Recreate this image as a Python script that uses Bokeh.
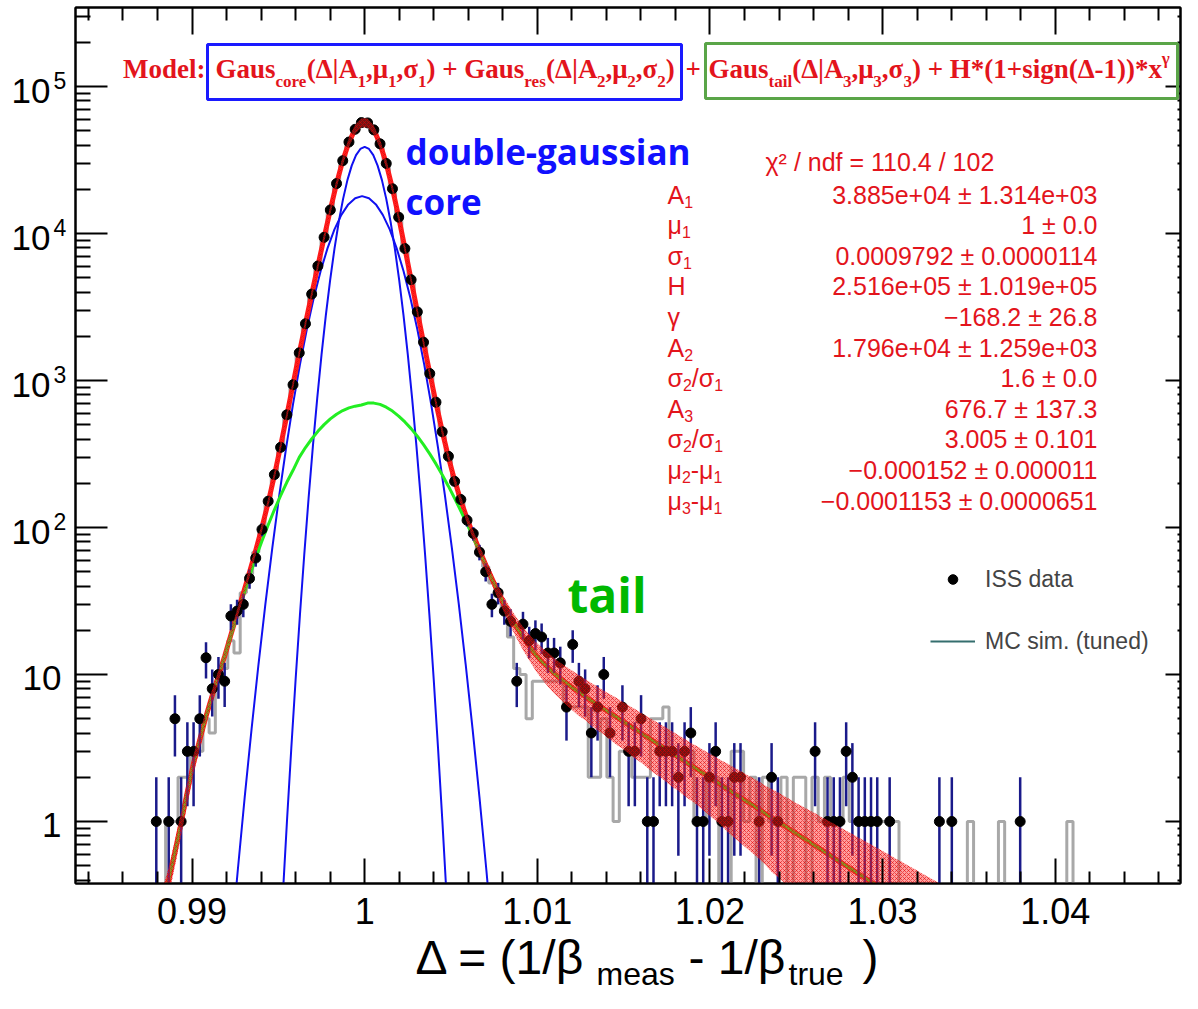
import math
from bokeh.plotting import figure
from bokeh.layouts import row, column
from bokeh.models import (Range1d, FixedTicker, LinearAxis, LogAxis, Label,
                          BoxAnnotation, Legend, LegendItem)
from bokeh.embed import file_html
from bokeh.resources import INLINE

# ---------------------------------------------------------------- data ----
BIN_WIDTH = 0.00036
FIRST_BIN_CENTER = 0.98325

# ISS data, counts per bin (bins of width BIN_WIDTH starting at FIRST_BIN_CENTER)
iss_counts = [0] * 13 + [
    1, 0, 1, 5, 1, 3, 3, 5, 13, 8,
    10, 9, 25, 27, 30, 45, 62, 97, 151, 229,
    351, 584, 936, 1542, 2431, 3870, 6012, 9420, 14460, 21850,
    31260, 41900, 51180, 56800, 56540, 50700, 40730, 29950, 20150, 12920,
    7900, 4850, 2930, 1822, 1115, 712, 448, 305, 206, 155,
    112, 91, 68, 50, 30, 36, 27, 23, 9, 22,
    17, 19, 18, 14, 14, 12, 6, 16, 9, 8,
    4, 6, 10, 4, 0, 6, 3, 3, 5, 1,
    1, 3, 3, 3, 2, 3, 4, 1, 1, 2,
    3, 1, 1, 2, 2, 0, 0, 1, 0, 2,
    1, 0, 0, 0, 0, 0, 3, 0, 1, 1,
    1, 3, 2, 1, 1, 1, 1, 0, 1, 0,
    0, 0, 0, 0, 0, 0, 1, 0, 1, 0,
    0, 0, 0, 0, 0, 0, 0, 0, 0, 1,
] + [0] * 27

# MC simulation (tuned), same binning
mc_counts = [0] * 15 + [
    1, 1, 2, 2, 3, 3, 5, 4, 9, 11,
    17, 14, 36, 48, 68, 98, 150, 223, 362, 575,
    950, 1520, 2460, 3840, 6050, 9370, 14520, 21790, 31320, 41800,
    51300, 56700, 56650, 50580, 40800, 29850, 20250, 12850, 7950, 4810,
    2960, 1800, 1130, 700, 455, 298, 212, 150, 116, 88,
    71, 54, 42, 34, 27, 18, 11, 10, 5, 9,
    9, 9, 9, 9, 6, 6, 6, 6, 2, 2,
    5, 2, 1, 3, 3, 2, 2, 2, 5, 5,
    6, 3, 3, 3, 3, 1, 1, 2, 2, 0,
    0, 3, 3, 1, 2, 0, 2, 1, 1, 2,
    0, 2, 2, 0, 2, 1, 2, 1, 1, 2,
    1, 1, 1, 1, 1, 1, 1, 1,
] + [0] * 11 + [1] + [0] * 4 + [1] + [0] * 10 + [1] + [0] * 19

# fit curves, sampled at the bin centres starting at bin index FIT_FIRST_BIN
FIT_FIRST_BIN = 12
fit_total = [
    0.11, 0.18, 0.28, 0.40, 0.62, 0.98, 1.6, 2.5, 3.6, 5.2,
    7.2, 9.8, 13.3, 18.6, 25.9, 35.7, 49.6, 69.9, 100.1, 147.5,
    226, 358, 579, 942, 1534, 2446, 3855, 6030, 9392, 14494,
    21812, 31295, 41850, 51240, 56757, 56595, 50615, 40784, 29890, 20209,
    12881, 7932, 4827, 2946, 1810, 1123, 705, 452.7, 301.2, 209.4,
    152.3, 114.9, 89.0, 70.1, 55.9, 44.9, 36.35, 29.8, 24.8, 20.9,
    17.9, 15.6, 13.7, 12.3, 11.2, 10.2, 9.41, 8.73, 8.12, 7.58,
    7.10, 6.62, 6.21, 5.83, 5.48, 5.14, 4.83, 4.53, 4.26, 4.00,
    3.75, 3.52, 3.31, 3.11, 2.92, 2.74, 2.57, 2.41, 2.27, 2.13,
    2.00, 1.88, 1.76, 1.65, 1.55, 1.46, 1.37, 1.29, 1.21, 1.13,
    1.06, 1.00, 0.938, 0.881, 0.827, 0.777, 0.730, 0.685, 0.643, 0.604,
    0.567, 0.532, 0.500, 0.469, 0.441, 0.414, 0.389, 0.365, 0.343, 0.322,
    0.302, 0.284, 0.266, 0.250, 0.235, 0.220, 0.207, 0.194,
]
fit_tail = [
    0.11, 0.18, 0.28, 0.40, 0.62, 0.98, 1.6, 2.5, 3.6, 5.2,
    7.2, 9.8, 13.3, 18.5, 25.5, 34.5, 46.5, 62, 81, 104,
    132, 165, 203, 245, 300, 350, 400, 451, 501, 548,
    590, 624.5, 651.5, 669, 681, 702, 702, 688, 658, 619.5,
    572.9, 522.9, 470.6, 418, 366.2, 316.9, 270.9, 228.8, 191.1, 158.0,
    129.5, 105.3, 85.2, 68.7, 55.4, 44.7, 36.35, 29.8, 24.8, 20.9,
    17.9, 15.6, 13.7, 12.3, 11.2, 10.2, 9.41, 8.73, 8.12, 7.58,
    7.10, 6.62, 6.21, 5.83, 5.48, 5.14, 4.83, 4.53, 4.26, 4.00,
    3.75, 3.52, 3.31, 3.11, 2.92, 2.74, 2.57, 2.41, 2.27, 2.13,
    2.00, 1.88, 1.76, 1.65, 1.55, 1.46, 1.37, 1.29, 1.21, 1.13,
    1.06, 1.00, 0.938, 0.881, 0.827, 0.777, 0.730, 0.685, 0.643, 0.604,
    0.567, 0.532, 0.500, 0.469, 0.441, 0.414, 0.389, 0.365, 0.343, 0.322,
    0.302, 0.284, 0.266, 0.250, 0.235, 0.220, 0.207, 0.194,
]
fit_band_rel = [
    0.30, 0.27, 0.25, 0.22, 0.20, 0.18, 0.16, 0.14, 0.12, 0.11,
    0.10, 0.09, 0.08, 0.07, 0.07, 0.07, 0.07, 0.07, 0.07, 0.07,
    0.07, 0.07, 0.07, 0.07, 0.07, 0.07, 0.07, 0.07, 0.07, 0.07,
    0.07, 0.07, 0.07, 0.07, 0.07, 0.07, 0.07, 0.07, 0.07, 0.07,
    0.07, 0.07, 0.07, 0.07, 0.07, 0.07, 0.07, 0.07, 0.07, 0.07,
    0.07, 0.07, 0.07, 0.07, 0.08, 0.09, 0.10, 0.12, 0.14, 0.16,
    0.18, 0.20, 0.22, 0.24, 0.26, 0.27, 0.28, 0.29, 0.30, 0.31,
    0.31, 0.32, 0.33, 0.33, 0.34, 0.35, 0.35, 0.36, 0.37, 0.37,
    0.38, 0.39, 0.39, 0.40, 0.41, 0.41, 0.42, 0.42, 0.43, 0.44,
    0.45, 0.46, 0.47, 0.49, 0.50, 0.51, 0.52, 0.53, 0.54, 0.55,
    0.57, 0.58, 0.59, 0.60, 0.61, 0.63, 0.64, 0.66, 0.67, 0.69,
    0.70, 0.72, 0.73, 0.75, 0.76, 0.78, 0.79, 0.81, 0.82, 0.84,
    0.85, 0.87, 0.88, 0.90, 0.91, 0.93, 0.94, 0.96,
]

# core gaussian component (blue, narrow)
core_x = [0.99525, 0.9955, 0.99575, 0.996, 0.99625, 0.9965, 0.99675, 0.997,
          0.99725, 0.9975, 0.99775, 0.998, 0.99825, 0.9985, 0.99875, 0.999,
          0.99925, 0.9995, 0.99975, 1.0, 1.00025, 1.0005, 1.00075, 1.001,
          1.00125, 1.0015, 1.00175, 1.002, 1.00225, 1.0025, 1.00275, 1.003,
          1.00325, 1.0035, 1.00375, 1.004, 1.00425, 1.0045, 1.00475]
core_y = [0.302, 1.01, 3.15, 9.25, 25.4, 65.3, 157.5, 356, 753, 1493, 2773,
          4826, 7866, 12020, 17200, 23070, 28970, 34100, 37600, 38850, 37600,
          34100, 28970, 23070, 17200, 12020, 7866, 4826, 2773, 1493, 753, 356,
          157.5, 65.3, 25.4, 9.25, 3.15, 1.01, 0.302]
# resolution gaussian component (blue, wide)
res_x = [0.99225, 0.99265, 0.99305, 0.99345, 0.99385, 0.99425, 0.99465, 0.99505,
         0.99545, 0.99585, 0.99625, 0.99665, 0.99705, 0.99745, 0.99785, 0.99825,
         0.99865, 0.99905, 0.99945, 0.99985, 1.00025, 1.00065, 1.00105, 1.00145,
         1.00185, 1.00225, 1.00265, 1.00305, 1.00345, 1.00385, 1.00425, 1.00465,
         1.00505, 1.00545, 1.00585, 1.00625, 1.00665, 1.00705, 1.00745]
res_y = [0.140, 0.466, 1.46, 4.27, 11.74, 30.2, 72.8, 164.5, 348, 690, 1282,
         2230, 3636, 5556, 7952, 10660, 13390, 15770, 17390, 17960, 17390, 15770,
         13390, 10660, 7952, 5556, 3636, 2230, 1282, 690, 348, 164.5, 72.8, 30.2,
         11.74, 4.27, 1.46, 0.466, 0.140]

x_tick_values = [0.99, 1.0, 1.01, 1.02, 1.03, 1.04]
x_tick_labels = ["0.99", "1", "1.01", "1.02", "1.03", "1.04"]
x_minor_values = [0.984, 0.986, 0.988, 0.992, 0.994, 0.996, 0.998, 1.002, 1.004,
                  1.006, 1.008, 1.012, 1.014, 1.016, 1.018, 1.022, 1.024, 1.026,
                  1.028, 1.032, 1.034, 1.036, 1.038, 1.042, 1.044, 1.046]
y_tick_values = [1, 10, 100, 1000, 10000, 100000]
y_tick_base = ["1", "10", "10", "10", "10", "10"]
y_tick_sup = ["", "", "2", "3", "4", "5"]
y_minor_values = [m * 10.0 ** d for d in range(-1, 6) for m in range(2, 10)]

stats_title = "χ² / ndf = 110.4 / 102"
stats_names = [
    [("A", "n"), ("1", "s")],
    [("μ", "n"), ("1", "s")],
    [("σ", "n"), ("1", "s")],
    [("H", "n")],
    [("γ", "n")],
    [("A", "n"), ("2", "s")],
    [("σ", "n"), ("2", "s"), ("/σ", "n"), ("1", "s")],
    [("A", "n"), ("3", "s")],
    [("σ", "n"), ("2", "s"), ("/σ", "n"), ("1", "s")],
    [("μ", "n"), ("2", "s"), ("-μ", "n"), ("1", "s")],
    [("μ", "n"), ("3", "s"), ("-μ", "n"), ("1", "s")],
]
stats_values = [
    "3.885e+04 ± 1.314e+03", "1 ± 0.0", "0.0009792 ± 0.0000114",
    "2.516e+05 ± 1.019e+05", "−168.2 ± 26.8", "1.796e+04 ± 1.259e+03",
    "1.6 ± 0.0", "676.7 ± 137.3", "3.005 ± 0.101", "−0.000152 ± 0.000011",
    "−0.0001153 ± 0.0000651",
]
formula_prefix = "Model:"
formula_core = [("Gaus", "n"), ("core", "s"), ("(Δ|A", "n"), ("1", "s"), (",μ", "n"),
                ("1", "s"), (",σ", "n"), ("1", "s"), (") + Gaus", "n"), ("res", "s"),
                ("(Δ|A", "n"), ("2", "s"), (",μ", "n"), ("2", "s"), (",σ", "n"),
                ("2", "s"), (")", "n")]
formula_tail = [("Gaus", "n"), ("tail", "s"), ("(Δ|A", "n"), ("3", "s"), (",μ", "n"),
                ("3", "s"), (",σ", "n"), ("3", "s"),
                (") + H*(1+sign(Δ-1))*x", "n"), ("γ", "p")]
x_title_pieces = [("Δ = (1/β", "n", 415), ("meas", "s", 596), ("- 1/β", "n", 688),
                  ("true", "s", 788), (")", "n", 862)]

# ----------------------------------------------------------- geometry ----
PX_PER_UNIT = 17264.0          # horizontal scale of the reference frame
FRAME_L, FRAME_W, FRAME_H = 75, 1105, 876
X_MIN = 0.98325
X_MAX = X_MIN + FRAME_W / PX_PER_UNIT
Y_MIN, Y_MAX = 0.3787, 344700.0
TOP_B, BOT_B = 7, 3
LEFT_W = 70
MAIN_H = TOP_B + FRAME_H + BOT_B
TOTAL_W, TOTAL_H = 1182, 993
BOTTOM_H = TOTAL_H - MAIN_H

TIMES_BOLD = {' ': .25, '(': .333, ')': .333, '*': .5, '+': .57, ',': .25, '-': .333,
              ':': .333, '1': .5, '2': .5, '3': .5, 'A': .722, 'G': .778, 'H': .778,
              'M': .944, '|': .22, 'a': .5, 'c': .444, 'd': .556, 'e': .444, 'g': .5,
              'i': .278, 'l': .278, 'n': .556, 'o': .5, 'r': .444, 's': .389, 't': .333,
              'u': .556, 'x': .5, 'Δ': .612, 'μ': .556, 'σ': .549, 'γ': .42}
ARIAL = {'A': .667, 'H': .722, 'μ': .576, 'σ': .617, 'γ': .5, '/': .278, '-': .333,
         '1': .556, '2': .556, '3': .556}


def width_of(s, size, table):
    return sum(table.get(ch, 0.5) for ch in s) * size


p = figure(width=TOTAL_W - LEFT_W, height=MAIN_H, title=None,
           x_range=Range1d(X_MIN, X_MAX), y_range=Range1d(Y_MIN, Y_MAX),
           y_axis_type="log", output_backend="svg", toolbar_location=None,
           min_border_left=FRAME_L - LEFT_W, min_border_right=2,
           min_border_top=TOP_B, min_border_bottom=BOT_B)
p.background_fill_color = "white"
p.border_fill_color = "white"
p.grid.visible = False
p.outline_line_color = "black"
p.outline_line_width = 2

x_ticker = FixedTicker(ticks=x_tick_values, minor_ticks=x_minor_values)
y_ticker = FixedTicker(ticks=y_tick_values, minor_ticks=y_minor_values)


def style_axis(ax, tick_in, minor_in):
    ax.major_label_standoff = 0
    ax.major_label_text_font_size = "1px"
    ax.major_tick_in, ax.major_tick_out = tick_in, 0
    ax.minor_tick_in, ax.minor_tick_out = minor_in, 0
    ax.axis_line_width = 2
    ax.major_tick_line_width = 2
    ax.minor_tick_line_width = 2


xa = p.xaxis[0]
xa.ticker = x_ticker
xa.major_label_overrides = {v: "" for v in x_tick_values}
style_axis(xa, 25, 12)

ya = p.yaxis[0]
ya.ticker = y_ticker
ya.major_label_overrides = {v: "" for v in y_tick_values}
style_axis(ya, 32, 15)

top = LinearAxis(ticker=x_ticker, major_label_overrides={v: "" for v in x_tick_values})
style_axis(top, 27, 13)
p.add_layout(top, "above")
right = LogAxis(ticker=y_ticker, major_label_overrides={v: "" for v in y_tick_values})
style_axis(right, 15, 3)
p.add_layout(right, "right")

# ------------------------------------------------------------- glyphs ----
mc_x = [FIRST_BIN_CENTER + BIN_WIDTH * i for i in range(len(mc_counts))]
mc_y = [max(v, Y_MIN) for v in mc_counts]
p.step(mc_x, mc_y, mode="center", line_color="#a8a8a8", line_width=3)

p.line(res_x, res_y, line_color="#1010f0", line_width=2)
p.line(core_x, core_y, line_color="#1010f0", line_width=2)

fit_x = [FIRST_BIN_CENTER + BIN_WIDTH * (FIT_FIRST_BIN + i) for i in range(len(fit_total))]
p.line(fit_x, fit_total, line_color="#ff1a1a", line_width=5, line_join="round")
p.line(fit_x, fit_tail, line_color="#22ee22", line_width=3, line_join="round")

iss_x = [FIRST_BIN_CENTER + BIN_WIDTH * i for i in range(len(iss_counts))]
pts = [(x, n) for x, n in zip(iss_x, iss_counts) if n > 0]
ex = [a for a, _ in pts]
ey = [b for _, b in pts]
elo = [max(b - math.sqrt(b), Y_MIN * 0.8) for b in ey]
ehi = [b + math.sqrt(b) for b in ey]
p.segment(ex, elo, ex, ehi, line_color="#1a1a8a", line_width=2.5)
dots = p.scatter(ex, ey, size=10, fill_color="black", line_color="black")

band_lo = [v * (1 - r) for v, r in zip(fit_total, fit_band_rel)]
band_hi = [v * (1 + r) for v, r in zip(fit_total, fit_band_rel)]
p.varea(x=fit_x, y1=band_lo, y2=band_hi, fill_color="#ff2a2a", fill_alpha=0.45,
        hatch_pattern="x", hatch_color="#e00000", hatch_alpha=0.55,
        hatch_scale=4, hatch_weight=1)

mc_leg = p.line([math.nan], [math.nan], line_color="#356e6e", line_width=2)

legend = Legend(items=[LegendItem(label="ISS data", renderers=[dots]),
                       LegendItem(label="MC sim. (tuned)", renderers=[mc_leg])],
                location=(855, 228.5), orientation="vertical",
                glyph_width=45, glyph_height=24, label_height=27, spacing=35,
                label_standoff=10, padding=0, margin=0,
                label_text_font="Liberation Sans", label_text_font_size="23px",
                border_line_alpha=0, background_fill_alpha=0)
p.add_layout(legend, "center")

# ---------------------------------------------------------------- text ----
RED = "#e3141c"


def add_label(fig, x, y, text, size, font="Liberation Sans", style="normal",
              color="black", align="left", baseline="middle",
              x_units="screen", y_units="screen", y_offset=0):
    fig.add_layout(Label(x=x, y=y, text=text, x_units=x_units, y_units=y_units,
                         text_font=font, text_font_style=style,
                         text_font_size=f"{size}px", text_color=color,
                         text_align=align, text_baseline=baseline, y_offset=y_offset))


def run(pieces, x0, center, size_n, size_s, font, style, color, table, sub_dy, sup_dy):
    x = x0
    for txt, kind in pieces:
        size = size_n if kind == "n" else size_s
        dy = 0 if kind == "n" else (-sub_dy if kind == "s" else sup_dy)
        add_label(p, x, center + dy, txt, size, font, style, color)
        x += width_of(txt, size, table)


# model formula (screen units relative to the frame's bottom-left corner)
F_CENTER = 883 - 68
add_label(p, 130, F_CENTER, formula_prefix, 27, "Liberation Serif", "bold", RED,
          align="right")
run(formula_core, 140, F_CENTER, 27, 17, "Liberation Serif", "bold", RED,
    TIMES_BOLD, 12.5, 10)
add_label(p, 610, F_CENTER, "+", 27, "Liberation Serif", "bold", RED)
run(formula_tail, 633, F_CENTER, 27, 17, "Liberation Serif", "bold", RED,
    TIMES_BOLD, 12.5, 10)
p.add_layout(BoxAnnotation(left=132, right=606, top=839, bottom=784,
                           left_units="screen", right_units="screen",
                           top_units="screen", bottom_units="screen",
                           fill_alpha=0, line_color="#1a1aff", line_alpha=1,
                           line_width=3))
p.add_layout(BoxAnnotation(left=630, right=1102, top=840, bottom=785,
                           left_units="screen", right_units="screen",
                           top_units="screen", bottom_units="screen",
                           fill_alpha=0, line_color="#5aa548", line_alpha=1,
                           line_width=3))

# fit statistics
add_label(p, 690, 883 - 161, stats_title, 25, color=RED)
for i, (names, val) in enumerate(zip(stats_names, stats_values)):
    center = 883 - (194 + 30.6 * i)
    run(names, 592, center, 25, 16, "Liberation Sans", "normal", RED, ARIAL, 7, 10)
    add_label(p, 1022, center, val, 25, color=RED, align="right")

# annotations
add_label(p, 330, 883 - 151, "double-gaussian", 35, "Open Sans", "bold", "#1010ff")
add_label(p, 330, 883 - 201, "core", 35, "Open Sans", "bold", "#1010ff")
add_label(p, 492, 883 - 594, "tail", 48, "Open Sans", "bold", "#00b800")

# ------------------------------------------- y tick labels (left strip) ----
yfig = figure(width=LEFT_W, height=MAIN_H, title=None, x_range=Range1d(0, LEFT_W),
              y_range=p.y_range, y_axis_type="log", output_backend="svg",
              toolbar_location=None, x_axis_location=None, y_axis_location=None,
              min_border_left=0, min_border_right=0, min_border_top=TOP_B,
              min_border_bottom=BOT_B)
yfig.grid.visible = False
yfig.outline_line_color = None
for yv, base, sup in zip(y_tick_values, y_tick_base, y_tick_sup):
    if sup:
        add_label(yfig, 50, yv, base, 35, align="right",
                  x_units="data", y_units="data", y_offset=-4)
        add_label(yfig, 53, yv, sup, 23, align="left",
                  x_units="data", y_units="data", y_offset=6)
    else:
        add_label(yfig, 61, yv, base, 35, align="right",
                  x_units="data", y_units="data", y_offset=-3)

# ---------------------- x tick labels and x-axis title (bottom strip) ----
bfig = figure(width=TOTAL_W, height=BOTTOM_H, title=None, x_range=p.x_range,
              y_range=Range1d(0, BOTTOM_H), output_backend="svg",
              toolbar_location=None, x_axis_location=None, y_axis_location=None,
              min_border_left=FRAME_L, min_border_right=2, min_border_top=0,
              min_border_bottom=0)
bfig.grid.visible = False
bfig.outline_line_color = None
for tv, tl in zip(x_tick_values, x_tick_labels):
    add_label(bfig, tv, TOTAL_H - 910, tl, 36, align="center",
              x_units="data", y_units="data")
for txt, kind, xpos in x_title_pieces:
    if kind == "n":
        add_label(bfig, xpos - FRAME_L, TOTAL_H - 957, txt, 48, y_units="data")
    else:
        add_label(bfig, xpos - FRAME_L, TOTAL_H - 973, txt, 32, y_units="data")

layout = column(row(yfig, p, spacing=0), bfig, spacing=0)
open("out.html", "w").write(file_html(layout, INLINE))
